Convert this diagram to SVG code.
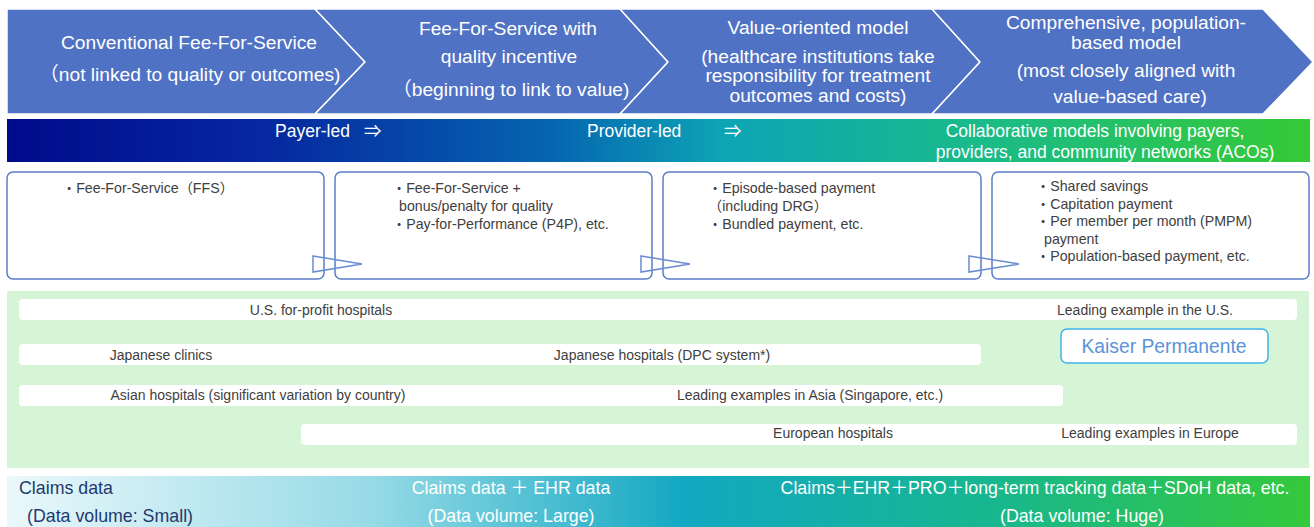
<svg xmlns="http://www.w3.org/2000/svg" width="1314" height="527" viewBox="0 0 1314 527">
<defs>
<linearGradient id="gBar" x1="0" y1="0" x2="1" y2="0">
<stop offset="0" stop-color="#000B8A"/>
<stop offset="0.2" stop-color="#0628A0"/>
<stop offset="0.42" stop-color="#0566B0"/>
<stop offset="0.55" stop-color="#0EA4B6"/>
<stop offset="0.75" stop-color="#1ABB88"/>
<stop offset="1" stop-color="#35CA35"/>
</linearGradient>
<linearGradient id="gBottom" x1="0" y1="0" x2="1" y2="0">
<stop offset="0" stop-color="#EAF8FB"/>
<stop offset="0.28" stop-color="#96DAE6"/>
<stop offset="0.52" stop-color="#13A8C2"/>
<stop offset="0.75" stop-color="#17B690"/>
<stop offset="1" stop-color="#35C93A"/>
</linearGradient>
<style>
.chev{fill:#4F72C4;stroke:#FFFFFF;stroke-width:1.5}
.ht{font-family:"Liberation Sans","Noto Sans CJK JP",sans-serif;font-size:19.2px;fill:#FFFFFF;text-anchor:middle}
.bt{font-family:"Liberation Sans","Noto Sans CJK JP",sans-serif;font-size:17.5px;fill:#FFFFFF}
.box{fill:#FFFFFF;stroke:#5B7CC8;stroke-width:1.5}
.ptr{fill:none;stroke:#6A8CD2;stroke-width:1.5}
.tx{font-family:"Liberation Sans","Noto Sans CJK JP",sans-serif;font-size:14.2px;fill:#404040}
.row{fill:#FFFFFF}
.rt{font-family:"Liberation Sans","Noto Sans CJK JP",sans-serif;font-size:14px;fill:#404040;text-anchor:middle}
.dt{font-family:"Liberation Sans","Noto Sans CJK JP",sans-serif;font-size:17.8px;fill:#FFFFFF}
.dk{fill:#1F3A6E}
</style>
</defs>

<g id="stage-banner">
<polygon class="chev" points="7,9 315,9 365,62 315,114 7,114"/>
<polygon class="chev" points="315,9 620,9 668,62 620,114 315,114 365,62"/>
<polygon class="chev" points="620,9 932,9 980,62 932,114 620,114 668,62"/>
<polygon class="chev" points="932,9 1263,9 1313,62 1263,114 932,114 980,62"/>
</g>
<g id="stage1">
<text class="ht" x="189" y="49">Conventional Fee-For-Service</text>
<text class="ht" x="190" y="81">（not linked to quality or outcomes)</text>
</g>
<g id="stage2">
<text class="ht" x="508" y="35">Fee-For-Service with</text>
<text class="ht" x="509" y="63">quality incentive</text>
<text class="ht" x="511" y="96">（beginning to link to value)</text>
</g>
<g id="stage3">
<text class="ht" x="818" y="34">Value-oriented model</text>
<text class="ht" x="818" y="63">(healthcare institutions take</text>
<text class="ht" x="818" y="82">responsibility for treatment</text>
<text class="ht" x="818" y="102">outcomes and costs)</text>
</g>
<g id="stage4">
<text class="ht" x="1126" y="29">Comprehensive, population-</text>
<text class="ht" x="1126" y="49">based model</text>
<text class="ht" x="1126" y="77">(most closely aligned with</text>
<text class="ht" x="1130" y="103">value-based care)</text>
</g>

<g id="leadership-bar">
<rect x="7" y="119" width="1303" height="43" fill="url(#gBar)"/>
<text class="bt" x="275" y="137">Payer-led</text>
<text class="bt" x="364" y="137">⇒</text>
<text class="bt" x="587" y="137">Provider-led</text>
<text class="bt" x="724" y="137">⇒</text>
<text class="bt" x="1095" y="137" text-anchor="middle">Collaborative models involving payers,</text>
<text class="bt" x="1105" y="158" text-anchor="middle">providers, and community networks (ACOs)</text>
</g>

<g id="payment1">
<rect class="box" x="7" y="172" width="317" height="107" rx="6"/>
<text class="tx" x="62" y="193">・Fee-For-Service（FFS）</text>
</g>
<g id="payment2">
<rect class="box" x="335" y="172" width="317" height="107" rx="6"/>
<text class="tx" x="392" y="193">・Fee-For-Service +</text>
<text class="tx" x="399" y="211">bonus/penalty  for quality</text>
<text class="tx" x="392" y="229">・Pay-for-Performance (P4P), etc.</text>
</g>
<g id="payment3">
<rect class="box" x="663" y="172" width="318" height="107" rx="6"/>
<text class="tx" x="708" y="193">・Episode-based payment</text>
<text class="tx" x="708" y="211">（including  DRG）</text>
<text class="tx" x="708" y="229">・Bundled  payment, etc.</text>
</g>
<g id="payment4">
<rect class="box" x="992" y="172" width="317" height="107" rx="6"/>
<text class="tx" x="1036" y="191">・Shared savings</text>
<text class="tx" x="1036" y="209">・Capitation payment</text>
<text class="tx" x="1036" y="226">・Per member per month (PMPM)</text>
<text class="tx" x="1044" y="244">payment</text>
<text class="tx" x="1036" y="261">・Population-based payment, etc.</text>
</g>

<g id="connectors">
<polygon class="ptr" points="313,256 362,264 313,272"/>
<polygon class="ptr" points="641,256 690,264 641,272"/>
<polygon class="ptr" points="969,256 1019,264 969,272"/>
</g>

<g id="examples">
<rect x="7" y="291" width="1302" height="177" fill="#D6F4D6"/>
<rect class="row" x="19" y="299" width="1278" height="21" rx="4"/>
<rect class="row" x="19" y="344" width="962" height="21" rx="4"/>
<rect class="row" x="19" y="385" width="1044" height="21" rx="4"/>
<rect class="row" x="301" y="424" width="996" height="21" rx="4"/>
</g>
<g id="us-row">
<text class="rt" x="321" y="315">U.S. for-profit hospitals</text>
<text class="rt" x="1145" y="315">Leading example in the U.S.</text>
</g>
<g id="japan-row">
<text class="rt" x="161" y="360">Japanese clinics</text>
<text class="rt" x="662" y="360">Japanese hospitals (DPC system*)</text>
</g>
<g id="asia-row">
<text class="rt" x="258" y="400">Asian hospitals (significant variation by country)</text>
<text class="rt" x="810" y="400">Leading examples in Asia (Singapore, etc.)</text>
</g>
<g id="europe-row">
<text class="rt" x="833" y="438">European hospitals</text>
<text class="rt" x="1150" y="438">Leading examples in Europe</text>
</g>
<g id="kaiser">
<rect x="1061" y="329" width="207" height="34" rx="6" fill="#FFFFFF" stroke="#3FB4E6" stroke-width="1.5"/>
<text x="1164" y="353" font-family="Liberation Sans, sans-serif" font-size="19.3px" fill="#5B93DA" text-anchor="middle">Kaiser Permanente</text>
</g>

<g id="data-bar">
<rect x="7" y="476" width="1303" height="51" fill="url(#gBottom)"/>
<text class="dt dk" x="19" y="494">Claims data</text>
<text class="dt dk" x="27" y="522">(Data volume: Small)</text>
<text class="dt" x="511" y="494" text-anchor="middle">Claims data ＋ EHR data</text>
<text class="dt" x="511" y="522" text-anchor="middle">(Data volume: Large)</text>
<text class="dt" x="1035" y="494" text-anchor="middle">Claims＋EHR＋PRO＋long-term tracking data＋SDoH data, etc.</text>
<text class="dt" x="1082" y="522" text-anchor="middle">(Data volume: Huge)</text>
</g>
</svg>
